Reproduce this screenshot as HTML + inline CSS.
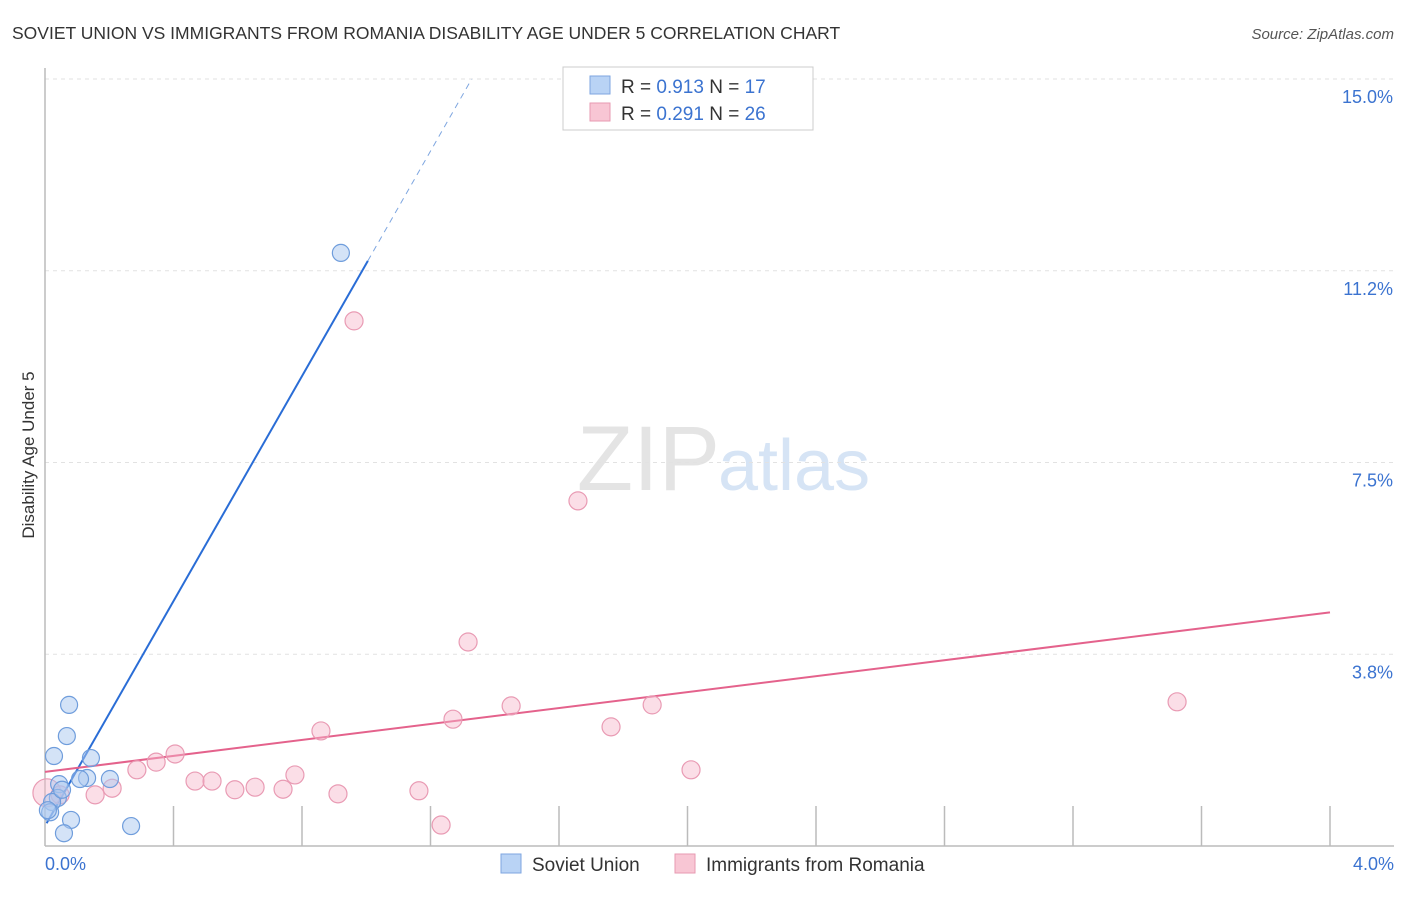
<!DOCTYPE html>
<html><head><meta charset="utf-8"><style>
body{margin:0;background:#fff;font-family:"Liberation Sans",sans-serif}
svg text{font-family:"Liberation Sans",sans-serif}
</style></head><body>
<svg width="1406" height="892" viewBox="0 0 1406 892">
<text x="12" y="39" font-size="17.5" fill="#333">SOVIET UNION VS IMMIGRANTS FROM ROMANIA DISABILITY AGE UNDER 5 CORRELATION CHART</text>
<text x="1394" y="39" font-size="15" fill="#555" font-style="italic" text-anchor="end">Source: ZipAtlas.com</text>
<text x="720" y="490" font-size="92" fill="#e4e4e4" font-family="Liberation Serif" text-anchor="end">ZIP</text>
<text x="718" y="490" font-size="72" fill="#d6e4f5">atlas</text>
<g id="grid"></g>
<line x1="45" y1="68" x2="45" y2="846" stroke="#bbb" stroke-width="1.5"/>
<line x1="45" y1="846" x2="1394" y2="846" stroke="#bbb" stroke-width="1.5"/>
<text transform="translate(34,455) rotate(-90)" font-size="17" fill="#333" text-anchor="middle">Disability Age Under 5</text>
<text x="45" y="870" font-size="18" fill="#3b73d0">0.0%</text>
<text x="1394" y="870" font-size="18" fill="#3b73d0" text-anchor="end">4.0%</text>
<g id="lines"></g>
<g id="points"></g>
<g>
<rect x="563" y="67" width="250" height="63" fill="#fff" stroke="#ccc"/>
<rect x="590" y="76" width="20" height="18" fill="#b9d3f5" stroke="#7ea6e0"/>
<rect x="590" y="103" width="20" height="18" fill="#f8c6d4" stroke="#e79ab2"/>
<text x="621" y="93" font-size="19" fill="#333">R = <tspan fill="#3b73d0">0.913</tspan>   N = <tspan fill="#3b73d0">17</tspan></text>
<text x="621" y="120" font-size="19" fill="#333">R = <tspan fill="#3b73d0">0.291</tspan>   N = <tspan fill="#3b73d0">26</tspan></text>
</g>
<g>
<rect x="501" y="854" width="20" height="19" fill="#b9d3f5" stroke="#7ea6e0"/>
<text x="532" y="871" font-size="19" fill="#333">Soviet Union</text>
<rect x="675" y="854" width="20" height="19" fill="#f8c6d4" stroke="#e79ab2"/>
<text x="706" y="871" font-size="19" fill="#333">Immigrants from Romania</text>
</g>
</svg>
<script>
const yTicks=[3.75,7.5,11.25,15];
const yTickLabels=["3.8%","7.5%","11.2%","15.0%"];
const blueX=[0.028,0.075,0.068,0.143,0.202,0.131,0.044,0.040,0.022,0.016,0.081,0.059,0.268,0.921,0.053,0.109,0.009];
const blueY=[1.76,2.76,2.15,1.72,1.31,1.33,1.21,0.94,0.86,0.66,0.51,0.25,0.39,11.6,1.10,1.31,0.70];
const pinkX=[0.006,0.047,0.156,0.209,0.286,0.346,0.405,0.467,0.520,0.591,0.654,0.741,0.778,0.859,0.912,0.962,1.164,1.233,1.270,1.451,1.659,1.762,1.890,2.011,3.524,1.317];
const pinkY=[1.04,1.00,1.00,1.13,1.49,1.64,1.80,1.27,1.27,1.10,1.15,1.11,1.39,2.25,1.02,10.27,1.08,0.41,2.48,2.74,6.75,2.33,2.76,1.49,2.82,3.99];
const blueFit=[0.39,11.0];
const pinkFit=[1.45,0.78];
const NS="http://www.w3.org/2000/svg";
const sx=v=>45+v*321.25, sy=v=>846-v*51.13;
function mk(t,a,p){const e=document.createElementNS(NS,t);for(const k in a)e.setAttribute(k,a[k]);document.getElementById(p).appendChild(e);return e;}
yTicks.forEach((t,i)=>{
 const l=mk('line',{x1:45,x2:1394,y1:sy(t),y2:sy(t),stroke:'#e2e2e2','stroke-dasharray':'4,4'},'grid');
 
 
 const tx=mk('text',{x:1393,y:sy(t)+24,'font-size':18,fill:'#3b73d0','text-anchor':'end'},'grid');
 tx.textContent=yTickLabels[i];
 
 
});
for(let i=1;i<=10;i++){
 const l=mk('line',{x1:sx(i*0.4),x2:sx(i*0.4),y1:806,y2:846,stroke:'#bbb','stroke-width':1.5},'grid');
 
 
}
let l=mk('line',{x1:sx(0.005),y1:sy(blueFit[0]+blueFit[1]*0.005),x2:sx(1.005),y2:sy(blueFit[0]+blueFit[1]*1.005),stroke:'#2a6dd6','stroke-width':2},'lines');


l=mk('line',{x1:sx(1.005),y1:sy(blueFit[0]+blueFit[1]*1.005),x2:sx((15-blueFit[0])/blueFit[1]),y2:sy(15),stroke:'#7ea6e0','stroke-width':1,'stroke-dasharray':'6,5'},'lines');


l=mk('line',{x1:sx(0),y1:sy(pinkFit[0]),x2:sx(4),y2:sy(pinkFit[0]+pinkFit[1]*4),stroke:'#e4628c','stroke-width':2},'lines');


pinkX.forEach((x,i)=>{
 const c=mk('circle',{cx:sx(x),cy:sy(pinkY[i]),r:i==0?14:9,fill:'rgba(246,182,202,0.45)',stroke:'#e99bb4','stroke-width':1.2},'points');
 
 
});
blueX.forEach((x,i)=>{
 const c=mk('circle',{cx:sx(x),cy:sy(blueY[i]),r:8.5,fill:'rgba(170,200,240,0.5)',stroke:'#6f9ddc','stroke-width':1.2},'points');
 
 
});
</script>
</body></html>
